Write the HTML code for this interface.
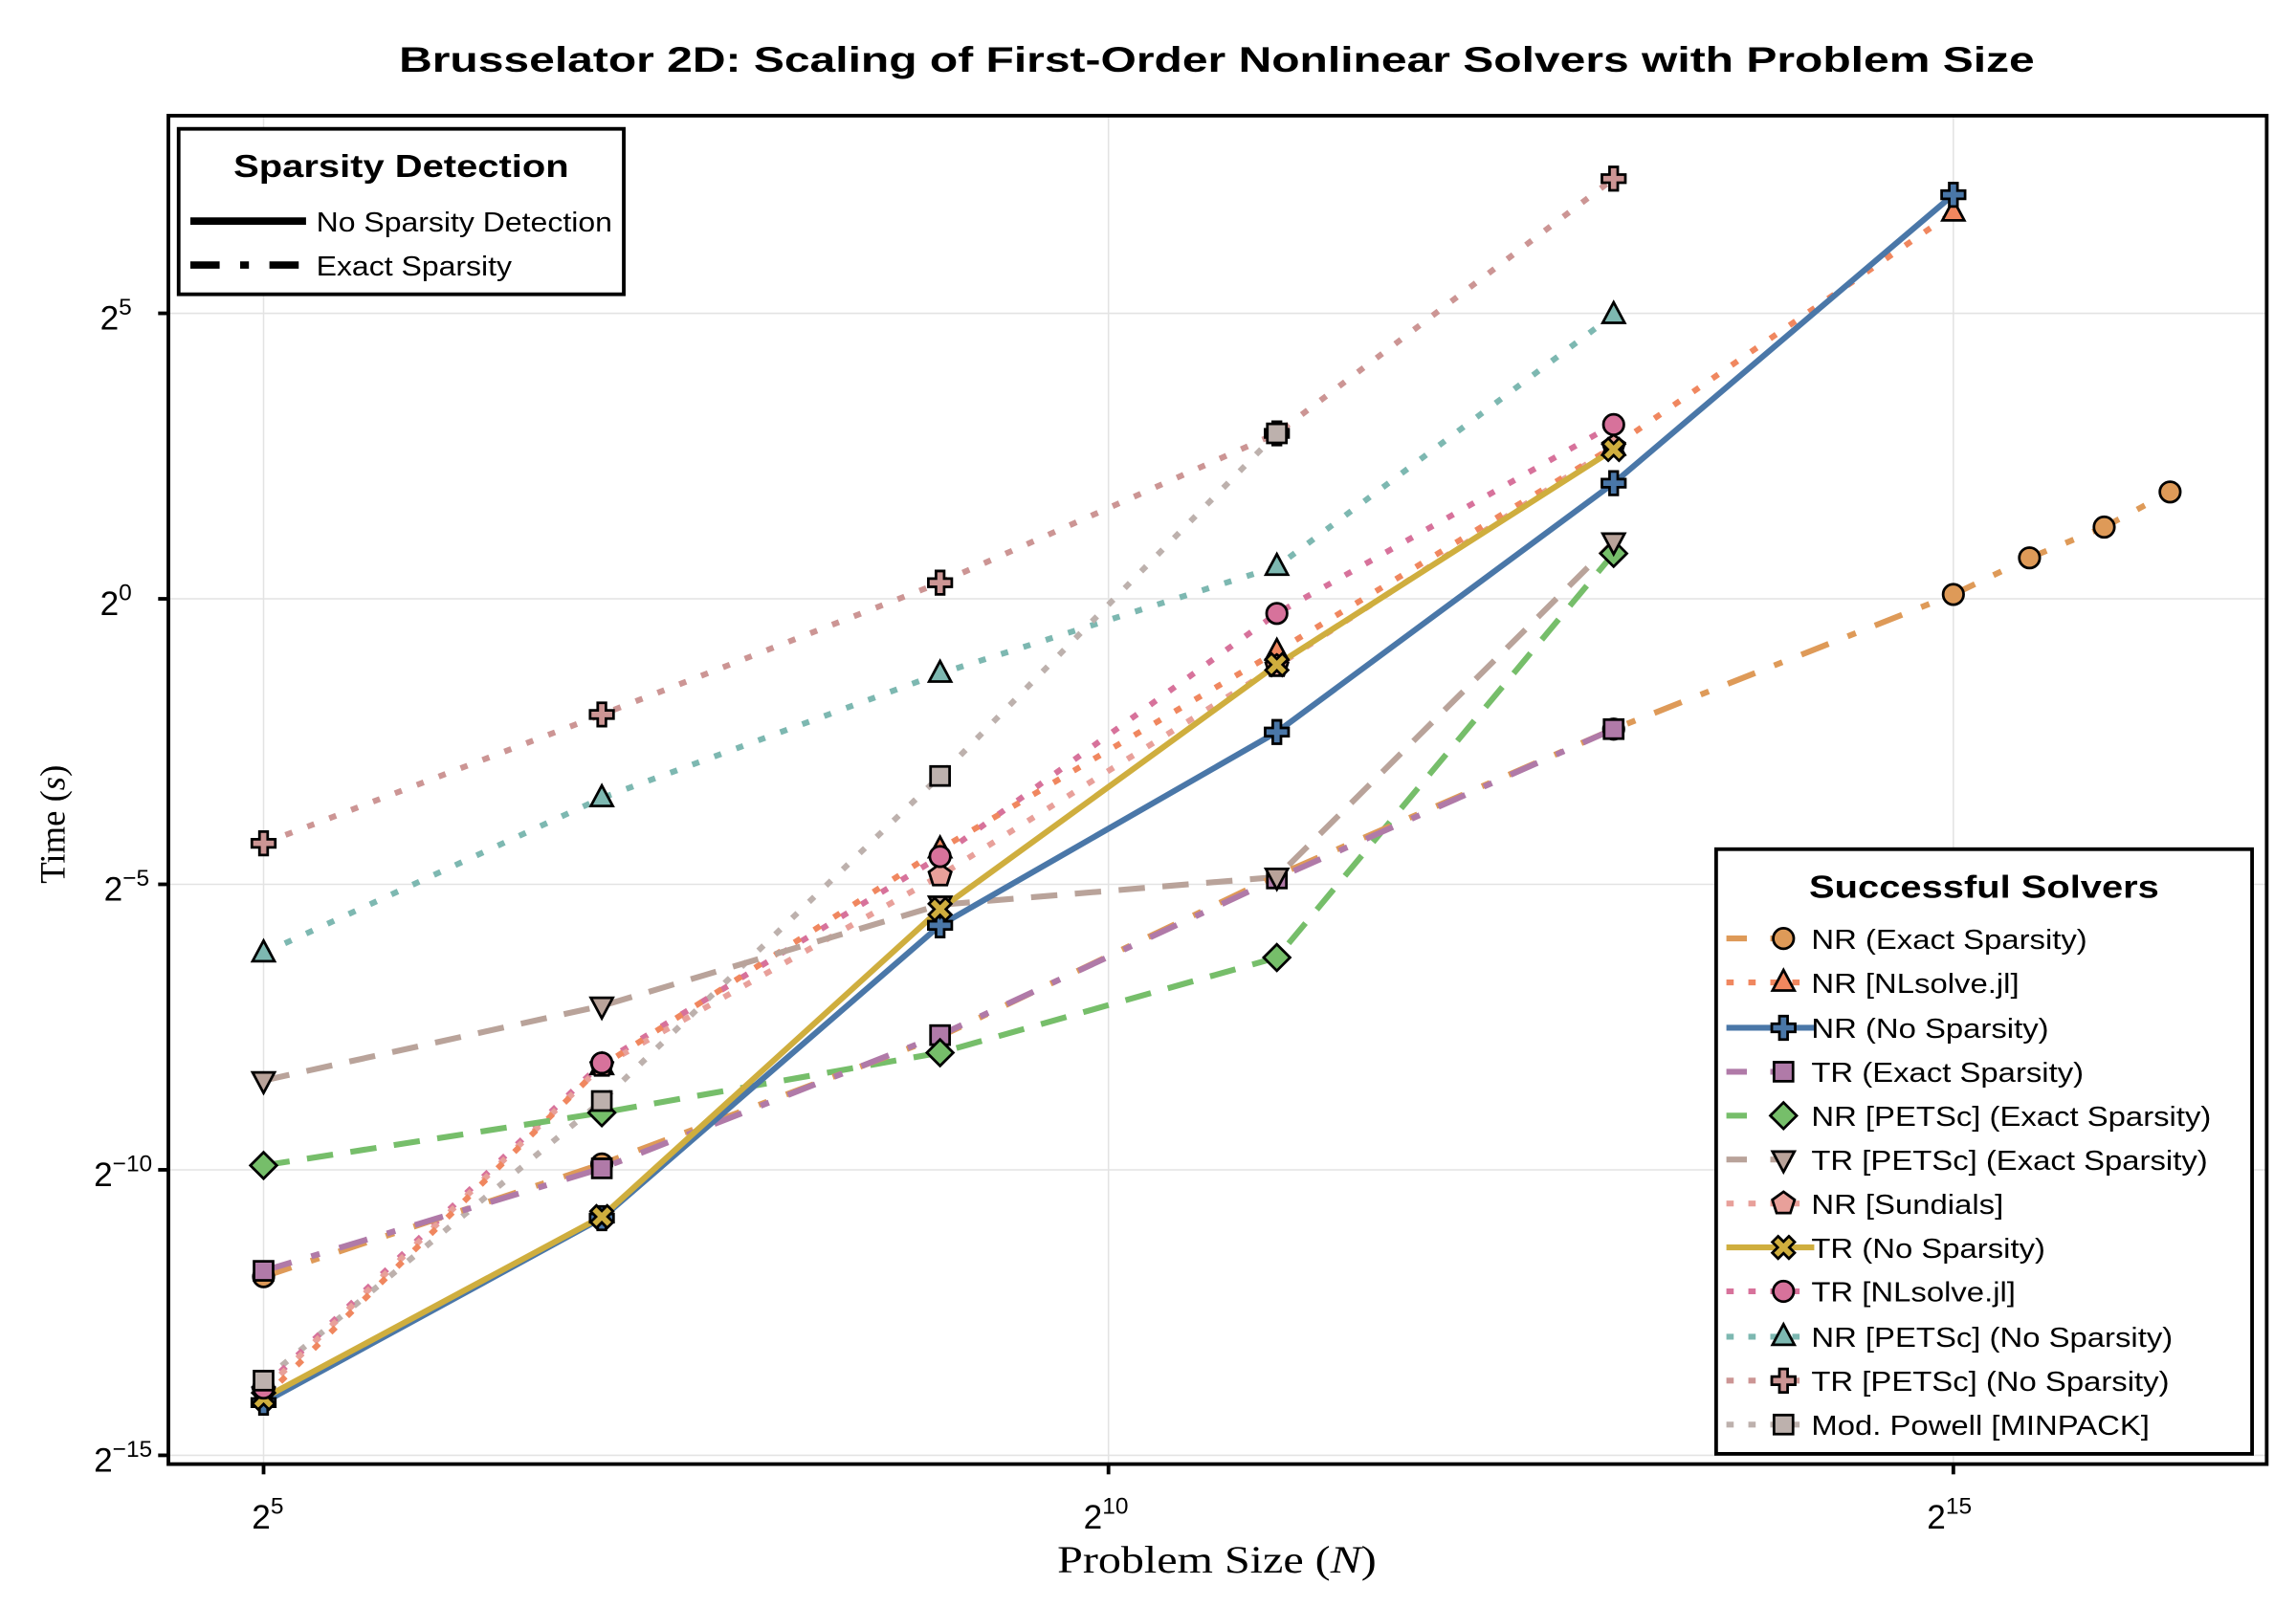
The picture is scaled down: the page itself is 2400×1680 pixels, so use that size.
<!DOCTYPE html>
<html><head><meta charset="utf-8"><style>
html,body{margin:0;padding:0;background:#fff;}
svg{display:block;}
text{font-family:"Liberation Sans",sans-serif;}
.ser{font-family:"Liberation Serif",serif;}
</style></head><body>
<svg width="2400" height="1680" viewBox="0 0 1568 1097.6" xmlns="http://www.w3.org/2000/svg">
<defs>
<g id="mc"><circle r="7"/></g>
<g id="mt"><path d="M0,-8.5 L7.5,5.5 L-7.5,5.5Z"/></g>
<g id="mp"><path d="M-2.8,-8 H2.8 V-2.8 H8 V2.8 H2.8 V8 H-2.8 V2.8 H-8 V-2.8 H-2.8Z"/></g>
<g id="ms"><rect x="-6.5" y="-6.5" width="13" height="13"/></g>
<g id="md"><path d="M0,-9 L9,0 L0,9 L-9,0Z"/></g>
<g id="mv"><path d="M-7.5,-5.5 L7.5,-5.5 L0,8.5Z"/></g>
<g id="mg"><path d="M0,-8 L7.6,-2.5 L4.7,6.5 L-4.7,6.5 L-7.6,-2.5Z"/></g>
<g id="mx"><path transform="rotate(45)" d="M-2.8,-8 H2.8 V-2.8 H8 V2.8 H2.8 V8 H-2.8 V2.8 H-8 V-2.8 H-2.8Z"/></g>
</defs>
<rect width="1568" height="1097.6" fill="#fff"/>
<text x="831" y="49" font-size="24" font-weight="bold" text-anchor="middle" textLength="1117" lengthAdjust="spacingAndGlyphs">Brusselator 2D: Scaling of First-Order Nonlinear Solvers with Problem Size</text>
<g stroke="#e3e3e3" stroke-width="1">
<line x1="180" y1="79" x2="180" y2="1000"/><line x1="757" y1="79" x2="757" y2="1000"/><line x1="1334" y1="79" x2="1334" y2="1000"/>
<line x1="115" y1="214" x2="1548" y2="214"/><line x1="115" y1="409" x2="1548" y2="409"/><line x1="115" y1="604" x2="1548" y2="604"/><line x1="115" y1="799" x2="1548" y2="799"/><line x1="115" y1="994" x2="1548" y2="994"/>
</g>
<g fill="none" stroke-width="4" stroke-linejoin="round">
<polyline stroke="#CC9594" stroke-dasharray="5,11" points="180,576 411,488 642,398 872,296 1102,122"/>
<polyline stroke="#7DB8B1" stroke-dasharray="5,11" points="180,651 411,545 642,460 872,387 1102,215"/>
<polyline stroke="#BDB1AD" stroke-dasharray="5,11" points="180,943 411,752 642,530 872,296"/>
<polyline stroke="#D7729B" stroke-dasharray="5,11" points="180,948 411,726 642,585 872,419 1102,290"/>
<polyline stroke="#E8A09A" stroke-dasharray="5,11" points="180,950 411,728 642,598 872,455 1102,305"/>
<polyline stroke="#F0875F" stroke-dasharray="5,11" points="180,955 411,728 642,580 872,445 1102,305 1334,145"/>
<polyline stroke="#B9A39A" stroke-dasharray="18,12" points="180,738 411,687 642,618 872,599 1102,370"/>
<polyline stroke="#76BE6A" stroke-dasharray="18,12" points="180,796 411,760 642,719 872,654 1102,378"/>
<polyline stroke="#DE9A58" stroke-dasharray="20,14,6,14" points="180,872 411,795 642,708 872,598 1102,498 1334,406 1386,381 1437,360 1482,336"/>
<polyline stroke="#B07AA8" stroke-dasharray="20,14,6,14" points="180,868 411,798 642,707 872,600 1102,498"/>
<polyline stroke="#4A77A8" points="180,958 411,832 642,632 872,500 1102,330 1334,133"/>
<polyline stroke="#CFAE3E" points="180,955 411,831 642,621 872,454 1102,307"/>
</g>
<g stroke="#000" stroke-width="1.8">
<g fill="#DE9A58"><use href="#mc" x="180" y="872"/><use href="#mc" x="411" y="795"/><use href="#mc" x="1102" y="498"/><use href="#mc" x="1334" y="406"/><use href="#mc" x="1386" y="381"/><use href="#mc" x="1437" y="360"/><use href="#mc" x="1482" y="336"/></g>
<g fill="#F0875F"><use href="#mt" x="180" y="955"/><use href="#mt" x="411" y="728"/><use href="#mt" x="642" y="580"/><use href="#mt" x="872" y="445"/><use href="#mt" x="1102" y="305"/><use href="#mt" x="1334" y="145"/></g>
<g fill="#4A77A8"><use href="#mp" x="180" y="958"/><use href="#mp" x="411" y="832"/><use href="#mp" x="642" y="632"/><use href="#mp" x="872" y="500"/><use href="#mp" x="1102" y="330"/><use href="#mp" x="1334" y="133"/></g>
<g fill="#B07AA8"><use href="#ms" x="180" y="868"/><use href="#ms" x="411" y="798"/><use href="#ms" x="642" y="707"/><use href="#ms" x="872" y="600"/><use href="#ms" x="1102" y="498"/></g>
<g fill="#76BE6A"><use href="#md" x="180" y="796"/><use href="#md" x="411" y="760"/><use href="#md" x="642" y="719"/><use href="#md" x="872" y="654"/><use href="#md" x="1102" y="378"/></g>
<g fill="#B9A39A"><use href="#mv" x="180" y="738"/><use href="#mv" x="411" y="687"/><use href="#mv" x="642" y="618"/><use href="#mv" x="872" y="599"/><use href="#mv" x="1102" y="370"/></g>
<g fill="#E8A09A"><use href="#mg" x="180" y="950"/><use href="#mg" x="411" y="728"/><use href="#mg" x="642" y="598"/><use href="#mg" x="872" y="455"/><use href="#mg" x="1102" y="305"/></g>
<g fill="#CFAE3E"><use href="#mx" x="180" y="955"/><use href="#mx" x="411" y="831"/><use href="#mx" x="642" y="621"/><use href="#mx" x="872" y="454"/><use href="#mx" x="1102" y="307"/></g>
<g fill="#D7729B"><use href="#mc" x="180" y="948"/><use href="#mc" x="411" y="726"/><use href="#mc" x="642" y="585"/><use href="#mc" x="872" y="419"/><use href="#mc" x="1102" y="290"/></g>
<g fill="#7DB8B1"><use href="#mt" x="180" y="651"/><use href="#mt" x="411" y="545"/><use href="#mt" x="642" y="460"/><use href="#mt" x="872" y="387"/><use href="#mt" x="1102" y="215"/></g>
<g fill="#CC9594"><use href="#mp" x="180" y="576"/><use href="#mp" x="411" y="488"/><use href="#mp" x="642" y="398"/><use href="#mp" x="872" y="296"/><use href="#mp" x="1102" y="122"/></g>
<g fill="#BDB1AD"><use href="#ms" x="180" y="943"/><use href="#ms" x="411" y="752"/><use href="#ms" x="642" y="530"/><use href="#ms" x="872" y="296"/></g>
</g>
<rect x="115" y="79" width="1433" height="921" fill="none" stroke="#000" stroke-width="2.5"/>
<g stroke="#000" stroke-width="2.5">
<line x1="108" y1="214" x2="115" y2="214"/><line x1="108" y1="409" x2="115" y2="409"/><line x1="108" y1="604" x2="115" y2="604"/><line x1="108" y1="799" x2="115" y2="799"/><line x1="108" y1="994" x2="115" y2="994"/>
<line x1="180" y1="1000" x2="180" y2="1007"/><line x1="757" y1="1000" x2="757" y2="1007"/><line x1="1334" y1="1000" x2="1334" y2="1007"/>
</g>
<g font-size="23">
<text x="90" y="225" text-anchor="end">2<tspan dy="-10" font-size="16">5</tspan></text>
<text x="90" y="420" text-anchor="end">2<tspan dy="-10" font-size="16">0</tspan></text>
<text x="102" y="615" text-anchor="end">2<tspan dy="-10" font-size="16">−5</tspan></text>
<text x="104" y="810" text-anchor="end">2<tspan dy="-10" font-size="16">−10</tspan></text>
<text x="104" y="1005" text-anchor="end">2<tspan dy="-10" font-size="16">−15</tspan></text>
<text x="172" y="1044">2<tspan dy="-10" font-size="16">5</tspan></text>
<text x="740" y="1044">2<tspan dy="-10" font-size="16">10</tspan></text>
<text x="1316" y="1044">2<tspan dy="-10" font-size="16">15</tspan></text>
</g>
<text class="ser" x="831" y="1074" font-size="26" text-anchor="middle" textLength="218" lengthAdjust="spacingAndGlyphs">Problem Size (<tspan font-style="italic">N</tspan>)</text>
<text class="ser" transform="translate(44,563) rotate(-90)" font-size="24" text-anchor="middle">Time (<tspan font-style="italic">s</tspan>)</text>
<rect x="122" y="88" width="304" height="113" fill="#fff" stroke="#000" stroke-width="2.5"/>
<text x="274" y="121" font-size="22" font-weight="bold" text-anchor="middle" textLength="229" lengthAdjust="spacingAndGlyphs">Sparsity Detection</text>
<line x1="130" y1="151" x2="209" y2="151" stroke="#000" stroke-width="5"/>
<line x1="130" y1="181" x2="209" y2="181" stroke="#000" stroke-width="5" stroke-dasharray="20,14,6,14"/>
<g transform="translate(216,0) scale(1.1,1)" font-size="19">
<text x="0" y="158">No Sparsity Detection</text>
<text x="0" y="188">Exact Sparsity</text>
</g>
<rect x="1172" y="580" width="366" height="413" fill="#fff" stroke="#000" stroke-width="2.5"/>
<text x="1355" y="613" font-size="22" font-weight="bold" text-anchor="middle" textLength="239" lengthAdjust="spacingAndGlyphs">Successful Solvers</text>
<g fill="none" stroke-width="4">
<line x1="1179" y1="641" x2="1239" y2="641" stroke="#DE9A58" stroke-dasharray="14,16"/>
<line x1="1179" y1="671" x2="1239" y2="671" stroke="#F0875F" stroke-dasharray="5,10"/>
<line x1="1179" y1="702" x2="1239" y2="702" stroke="#4A77A8"/>
<line x1="1179" y1="732" x2="1239" y2="732" stroke="#B07AA8" stroke-dasharray="14,16"/>
<line x1="1179" y1="762" x2="1225" y2="762" stroke="#76BE6A" stroke-dasharray="14,16"/>
<line x1="1179" y1="792" x2="1225" y2="792" stroke="#B9A39A" stroke-dasharray="14,16"/>
<line x1="1179" y1="822" x2="1239" y2="822" stroke="#E8A09A" stroke-dasharray="5,10"/>
<line x1="1179" y1="852" x2="1239" y2="852" stroke="#CFAE3E"/>
<line x1="1179" y1="882" x2="1239" y2="882" stroke="#D7729B" stroke-dasharray="5,10"/>
<line x1="1179" y1="913" x2="1239" y2="913" stroke="#7DB8B1" stroke-dasharray="5,10"/>
<line x1="1179" y1="943" x2="1239" y2="943" stroke="#CC9594" stroke-dasharray="5,10"/>
<line x1="1179" y1="973" x2="1239" y2="973" stroke="#BDB1AD" stroke-dasharray="5,10"/>
</g>
<g stroke="#000" stroke-width="1.8">
<use href="#mc" x="1218" y="641" fill="#DE9A58"/>
<use href="#mt" x="1218" y="671" fill="#F0875F"/>
<use href="#mp" x="1218" y="702" fill="#4A77A8"/>
<use href="#ms" x="1218" y="732" fill="#B07AA8"/>
<use href="#md" x="1218" y="762" fill="#76BE6A"/>
<use href="#mv" x="1218" y="792" fill="#B9A39A"/>
<use href="#mg" x="1218" y="822" fill="#E8A09A"/>
<use href="#mx" x="1218" y="852" fill="#CFAE3E"/>
<use href="#mc" x="1218" y="882" fill="#D7729B"/>
<use href="#mt" x="1218" y="913" fill="#7DB8B1"/>
<use href="#mp" x="1218" y="943" fill="#CC9594"/>
<use href="#ms" x="1218" y="973" fill="#BDB1AD"/>
</g>
<g transform="translate(1237,0) scale(1.13,1)" font-size="19">
<text x="0" y="648">NR (Exact Sparsity)</text>
<text x="0" y="678">NR [NLsolve.jl]</text>
<text x="0" y="709">NR (No Sparsity)</text>
<text x="0" y="739">TR (Exact Sparsity)</text>
<text x="0" y="769">NR [PETSc] (Exact Sparsity)</text>
<text x="0" y="799">TR [PETSc] (Exact Sparsity)</text>
<text x="0" y="829">NR [Sundials]</text>
<text x="0" y="859">TR (No Sparsity)</text>
<text x="0" y="889">TR [NLsolve.jl]</text>
<text x="0" y="920">NR [PETSc] (No Sparsity)</text>
<text x="0" y="950">TR [PETSc] (No Sparsity)</text>
<text x="0" y="980">Mod. Powell [MINPACK]</text>
</g>
</svg>
</body></html>
